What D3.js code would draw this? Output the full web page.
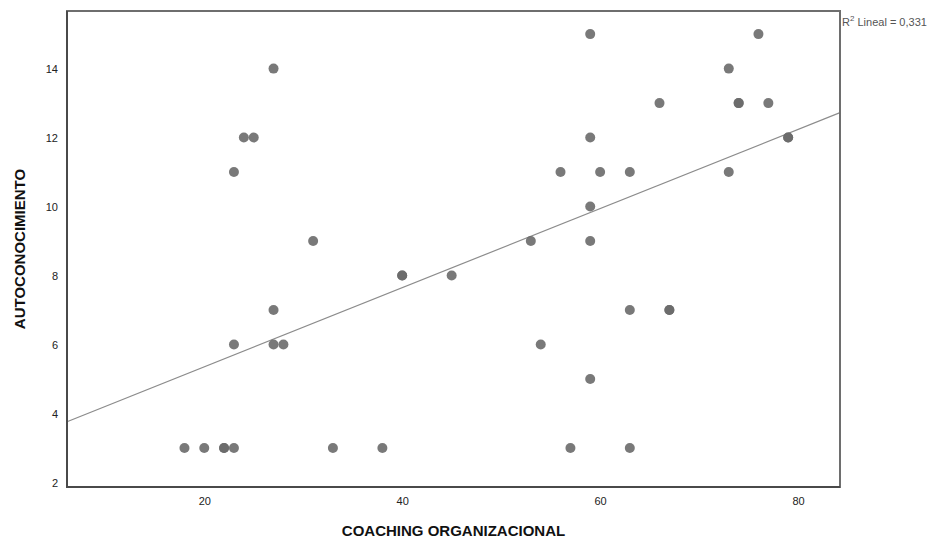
<!DOCTYPE html>
<html>
<head>
<meta charset="utf-8">
<script src="https://cdn.jsdelivr.net/npm/d3@7"></script>
<style>
  body { margin: 0; background: #fff; }
  text { font-family: "Liberation Sans", Arial, sans-serif; }
</style>
</head>
<body>
<div id="scatter"></div>
<script>
// data
var coaching = [18, 20, 22, 22, 23, 23, 23, 24, 25, 27, 27, 27, 28, 31, 33, 38, 40, 40, 45,
  53, 54, 56, 57, 59, 59, 59, 59, 59, 60, 63, 63, 63, 66, 67, 67, 73, 73, 74, 74, 76, 77, 79, 79];
var autoconoc = [3, 3, 3, 3, 3, 6, 11, 12, 12, 14, 7, 6, 6, 9, 3, 3, 8, 8, 8,
  9, 6, 11, 3, 15, 12, 10, 9, 5, 11, 11, 7, 3, 13, 7, 7, 14, 11, 13, 13, 15, 13, 12, 12];
var xTicks = [20, 40, 60, 80];
var yTicks = [2, 4, 6, 8, 10, 12, 14];
var fitIntercept = 3.06;
var fitSlope = 0.1147;
var r2Label = "0,331";

var svgWidth = 938;
var svgHeight = 542;

var margin = { top: 11, right: 98, bottom: 55, left: 67 };
var width = svgWidth - margin.left - margin.right;
var height = svgHeight - margin.top - margin.bottom;

var svg = d3.select("#scatter")
  .append("svg")
  .attr("width", svgWidth)
  .attr("height", svgHeight);

var chartGroup = svg.append("g")
  .attr("transform", `translate(${margin.left}, ${margin.top})`);

var xScale = d3.scaleLinear().domain([6.13, 84.24]).range([0, width]);
var yScale = d3.scaleLinear().domain([1.87, 15.67]).range([height, 0]);

var points = coaching.map(function(c, i) { return { x: c, y: autoconoc[i] }; });

// axes (labels only, no tick marks)
var xAxis = d3.axisBottom(xScale).tickValues(xTicks).tickSize(0).tickPadding(10);
var yAxis = d3.axisLeft(yScale).tickValues(yTicks).tickSize(0).tickPadding(9);

var gx = chartGroup.append("g")
  .attr("transform", `translate(0, ${height})`)
  .call(xAxis);
var gy = chartGroup.append("g").call(yAxis);
[gx, gy].forEach(function(g) {
  g.select(".domain").remove();
  g.selectAll("text").attr("font-size", "11px").attr("fill", "#222")
    .style("font-family", "'Liberation Sans', Arial, sans-serif");
});

// fit line
var x0 = xScale.domain()[0], x1 = xScale.domain()[1];
chartGroup.append("line")
  .attr("x1", xScale(x0))
  .attr("y1", yScale(fitIntercept + fitSlope * x0))
  .attr("x2", xScale(x1))
  .attr("y2", yScale(fitIntercept + fitSlope * x1))
  .attr("stroke", "#8c8c8c")
  .attr("stroke-width", 1.2);

// points
chartGroup.selectAll("circle")
  .data(points)
  .enter()
  .append("circle")
  .attr("cx", d => xScale(d.x))
  .attr("cy", d => yScale(d.y))
  .attr("r", 5)
  .attr("fill", "#6a6a6a")
  .attr("fill-opacity", 0.9);

// frame
chartGroup.append("rect")
  .attr("x", 0)
  .attr("y", 0)
  .attr("width", width)
  .attr("height", height)
  .attr("fill", "none")
  .attr("stroke", "#6e6e6e")
  .attr("stroke-width", 2);
chartGroup.append("path")
  .attr("d", `M0,0V${height}H${width}`)
  .attr("fill", "none")
  .attr("stroke", "#4a4a4a")
  .attr("stroke-width", 2);

// R2 label
var r2 = svg.append("text")
  .attr("x", margin.left + width + 2)
  .attr("y", 26)
  .attr("font-size", "11px")
  .attr("fill", "#555");
r2.append("tspan").text("R");
r2.append("tspan").attr("dy", -5).attr("font-size", "8px").text("2");
r2.append("tspan").attr("dy", 5).text(" Lineal = " + r2Label);

// axis titles
svg.append("text")
  .attr("x", margin.left + width / 2)
  .attr("y", 536)
  .attr("text-anchor", "middle")
  .attr("font-size", "15px")
  .attr("font-weight", "bold")
  .attr("fill", "#111")
  .text("COACHING ORGANIZACIONAL");

svg.append("text")
  .attr("transform", `translate(25, ${margin.top + height / 2}) rotate(-90)`)
  .attr("text-anchor", "middle")
  .attr("font-size", "15px")
  .attr("font-weight", "bold")
  .attr("fill", "#111")
  .text("AUTOCONOCIMIENTO");
</script>
</body>
</html>
